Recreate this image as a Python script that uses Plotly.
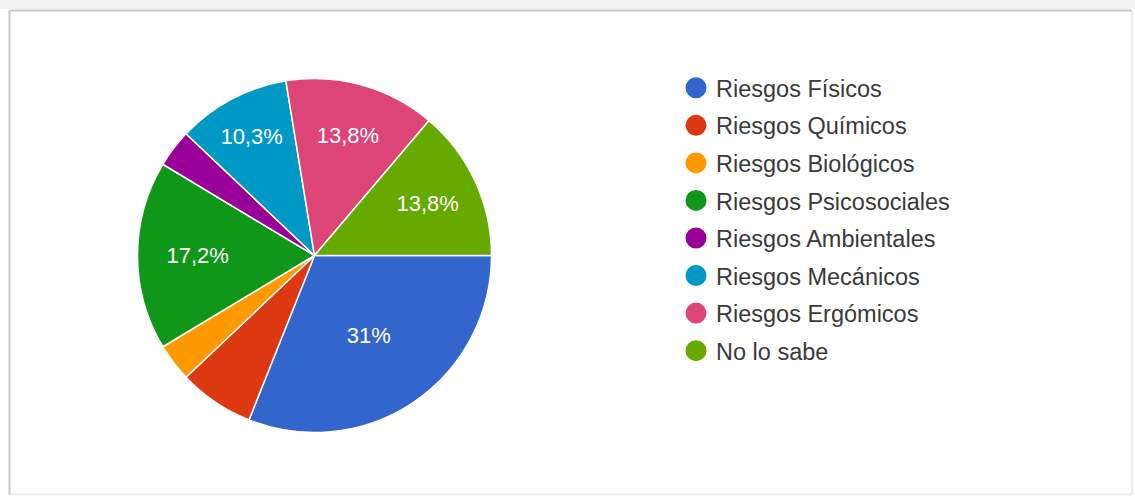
import plotly.graph_objects as go

categories = ["Riesgos Físicos", "Riesgos Químicos", "Riesgos Biológicos",
              "Riesgos Psicosociales", "Riesgos Ambientales", "Riesgos Mecánicos",
              "Riesgos Ergómicos", "No lo sabe"]
counts = [9, 2, 1, 5, 1, 3, 4, 4]
colors = ["#3366CC", "#DC3912", "#FF9900", "#109618", "#990099", "#0099C6",
          "#DD4477", "#66AA00"]

W, H = 1135, 497
total = sum(counts)


def fmt(c):
    p = c / total * 100
    if p < 8:
        return ""
    s = f"{p:.1f}"
    if s.endswith(".0"):
        s = s[:-2]
    return s.replace(".", ",") + "%"


labels_text = [fmt(c) for c in counts]

cx, cy, r = 314.5, 255.5, 177
FONT = "Liberation Sans, Arial, sans-serif"

fig = go.Figure()
fig.add_trace(go.Pie(
    labels=categories, values=counts, text=labels_text,
    texttemplate="%{text}", textposition="inside",
    insidetextfont=dict(color="white", size=22, family=FONT),
    marker=dict(colors=colors, line=dict(color="white", width=1.5)),
    sort=False, direction="clockwise", rotation=90,
    showlegend=False, hoverinfo="label+percent",
    domain=dict(x=[(cx - r) / W, (cx + r) / W],
                y=[(H - cy - r) / H, (H - cy + r) / H]),
))

for i, (name, col) in enumerate(zip(categories, colors)):
    fig.add_trace(go.Scatter(
        x=[None], y=[None], mode="markers", name=name,
        legendgroup=f"g{i}",
        marker=dict(color=col, size=16, symbol="circle",
                    line=dict(color=col, width=5)),
        showlegend=True, hoverinfo="skip",
    ))

x0, x1 = 9.5 / W, 1132 / W
y0, y1 = (H - 494.5) / H, (H - 10.5) / H

fig.update_layout(
    width=W, height=H,
    margin=dict(l=0, r=0, t=0, b=0),
    paper_bgcolor="white", plot_bgcolor="white",
    xaxis=dict(visible=False), yaxis=dict(visible=False),
    legend=dict(
        x=676 / W, xanchor="left", y=1 - 66 / H, yanchor="top",
        font=dict(size=23.5, color="#3a3a3a", family=FONT),
        traceorder="grouped", tracegroupgap=4,
        bgcolor="rgba(0,0,0,0)",
    ),
    shapes=[
        dict(type="rect", xref="paper", yref="paper",
             x0=0, x1=1, y0=1 - 9 / H, y1=1, fillcolor="#f3f3f3",
             line=dict(width=0), layer="below"),
        dict(type="line", xref="paper", yref="paper",
             x0=x1, x1=x1, y0=y0, y1=y1, line=dict(color="#eeeeee", width=2), layer="below"),
        dict(type="line", xref="paper", yref="paper",
             x0=x0, x1=x1, y0=y0, y1=y0, line=dict(color="#eeeeee", width=2), layer="below"),
        dict(type="line", xref="paper", yref="paper",
             x0=x0, x1=x1, y0=y1, y1=y1, line=dict(color="#c8c8c8", width=2), layer="below"),
        dict(type="line", xref="paper", yref="paper",
             x0=x0, x1=x0, y0=y0, y1=y1, line=dict(color="#c8c8c8", width=2), layer="below"),
    ],
)

fig.write_html("out.html", config={"displayModeBar": False},
               post_script="document.body.style.margin='0';document.body.style.overflow='hidden';")
